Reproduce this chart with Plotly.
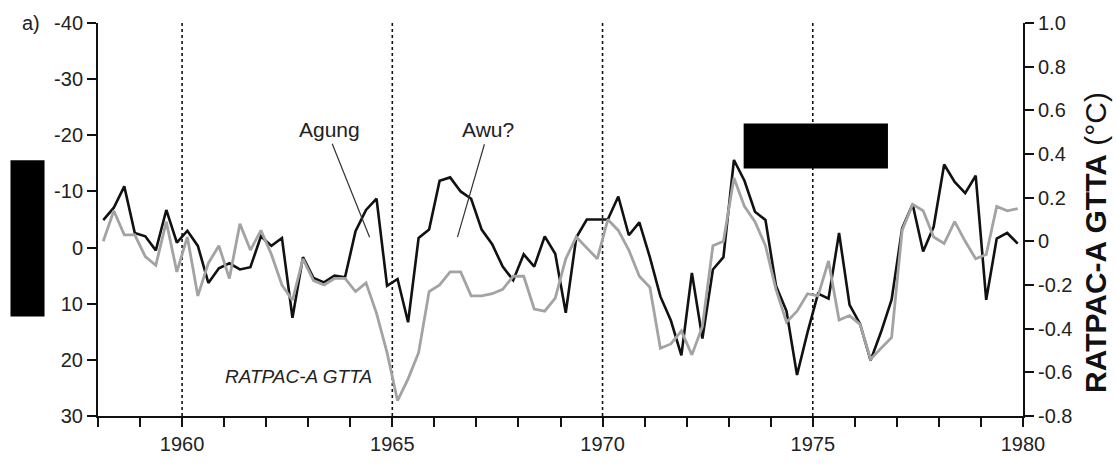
import plotly.graph_objects as go

# Quarterly time stamps (decimal years, mid-quarter) 1958-1979
quarters = [1958.125 + 0.25 * k for k in range(88)]

# Black series (left axis, reversed)
black_vals = [
    -4.9, -7.1, -10.9, -2.6, -2.0, 0.5, -6.7, -0.9, -3.0, -0.3,
    6.3, 3.7, 2.8, 3.9, 3.5, -2.0, -0.3, -1.7, 12.5, 1.7,
    5.4, 6.2, 5.0, 5.3, -2.9, -6.7, -8.7, 6.8, 5.6, 13.3,
    -1.7, -3.2, -11.9, -12.5, -10.0, -8.7, -3.2, -0.6, 3.4, 5.8,
    1.2, 3.4, -2.0, 1.1, 11.6, -1.8, -5.0, -5.0, -5.0, -9.1,
    -2.2, -4.5, 1.7, 8.7, 13.0, 19.2, 4.5, 16.2, 3.9, 1.7,
    -15.6, -11.9, -6.4, -4.9, 6.8, 11.3, 22.7, 15.1, 8.2, 9.1,
    -2.6, 10.2, 13.6, 20.1, 15.0, 9.3, -3.4, -7.7, 0.7, -3.7,
    -14.8, -11.7, -9.7, -12.8, 9.3, -1.6, -2.6, -0.7,
]

# RATPAC-A GTTA (right axis, deg C)
gtta_vals = [
    0.00, 0.14, 0.03, 0.03, -0.07, -0.11, 0.09, -0.14, 0.02, -0.25,
    -0.10, -0.02, -0.17, 0.08, -0.04, 0.05, -0.06, -0.20, -0.27, -0.08,
    -0.18, -0.20, -0.17, -0.17, -0.23, -0.19, -0.33, -0.51, -0.73, -0.63,
    -0.51, -0.23, -0.20, -0.14, -0.14, -0.25, -0.25, -0.24, -0.22, -0.16,
    -0.16, -0.31, -0.32, -0.26, -0.08, 0.02, -0.03, -0.08, 0.10, 0.05,
    -0.04, -0.16, -0.21, -0.49, -0.47, -0.41, -0.52, -0.39, -0.02, 0.00,
    0.29, 0.16, 0.09, -0.02, -0.22, -0.37, -0.32, -0.24, -0.25, -0.09,
    -0.36, -0.34, -0.38, -0.54, -0.49, -0.44, 0.05, 0.17, 0.14, 0.02,
    -0.01, 0.09, 0.00, -0.08, -0.06, 0.16, 0.14, 0.15,
]

left_ticks = [-40, -30, -20, -10, 0, 10, 20, 30]
right_ticks = [-0.8, -0.6, -0.4, -0.2, 0.0, 0.2, 0.4, 0.6, 0.8, 1.0]
right_ticktext = ["-0.8", "-0.6", "-0.4", "-0.2", "0", "0.2", "0.4", "0.6", "0.8", "1.0"]
year_ticks = [1960, 1965, 1970, 1975, 1980]
event_years = [1960, 1965, 1970, 1975]

FONT = "Liberation Sans, Arial, sans-serif"
TXT = "#222222"

fig = go.Figure()
fig.add_trace(go.Scatter(x=quarters, y=gtta_vals, yaxis="y2", mode="lines",
                         line=dict(color="#a3a3a3", width=2.8), showlegend=False))
fig.add_trace(go.Scatter(x=quarters, y=black_vals, yaxis="y", mode="lines",
                         line=dict(color="#111111", width=2.6), showlegend=False))

shapes = []
for yr in event_years:
    shapes.append(dict(type="line", xref="x", yref="paper", x0=yr, x1=yr, y0=0, y1=1,
                       line=dict(color="#111111", width=1.6, dash="dot"), layer="below"))
# Annotation leader lines
shapes.append(dict(type="line", xref="x", yref="y", x0=1963.57, y0=-18.5, x1=1964.46, y1=-1.85,
                   line=dict(color="#333333", width=1.2)))
shapes.append(dict(type="line", xref="x", yref="y", x0=1967.19, y0=-18.4, x1=1966.55, y1=-1.85,
                   line=dict(color="#333333", width=1.2)))
# Redaction boxes
shapes.append(dict(type="rect", xref="paper", yref="paper", x0=-0.0946, x1=-0.0578, y0=0.253, y1=0.651,
                   fillcolor="black", line=dict(width=0), layer="above"))
shapes.append(dict(type="rect", xref="paper", yref="paper", x0=0.698, x1=0.854, y0=0.630, y1=0.744,
                   fillcolor="black", line=dict(width=0), layer="above"))

annotations = [
    dict(text="a)", xref="paper", yref="paper", x=-0.072, y=1.0, showarrow=False,
         font=dict(family=FONT, size=20, color=TXT), xanchor="center", yanchor="middle"),
    dict(text="Agung", xref="x", yref="y", x=1963.50, y=-21.0, showarrow=False,
         font=dict(family=FONT, size=21, color=TXT), xanchor="center", yanchor="middle"),
    dict(text="Awu?", xref="x", yref="y", x=1967.28, y=-21.0, showarrow=False,
         font=dict(family=FONT, size=21, color=TXT), xanchor="center", yanchor="middle"),
    dict(text="<i>RATPAC-A GTTA</i>", xref="x", yref="y", x=1962.76, y=23.0, showarrow=False,
         font=dict(family=FONT, size=19, color=TXT), xanchor="center", yanchor="middle"),
    dict(text="<b>RATPAC-A GTTA</b> (°C)", xref="paper", yref="paper",
         x=(1096 - 98) / 925, y=(433 - 252) / 411, showarrow=False, textangle=-90,
         font=dict(family=FONT, size=30, color="#111111"), xanchor="center", yanchor="middle"),
]

axis_common = dict(showgrid=False, zeroline=False, showline=True, linecolor="#111111", linewidth=2,
                   ticks="outside", ticklen=9, tickwidth=1.6, tickcolor="#111111",
                   tickfont=dict(family=FONT, size=20, color=TXT))

fig.update_layout(
    width=1116, height=467,
    margin=dict(l=98, r=93, t=22, b=34),
    paper_bgcolor="white", plot_bgcolor="white",
    shapes=shapes, annotations=annotations,
    xaxis=dict(range=[1958, 1980], tickvals=year_ticks, ticktext=[str(y) for y in year_ticks],
               minor=dict(dtick=1, tick0=1958, ticks="outside", ticklen=9, tickwidth=1.6,
                          tickcolor="#111111", showgrid=False),
               **axis_common),
    yaxis=dict(range=[30, -40], tickvals=left_ticks, ticktext=[str(v) for v in left_ticks],
               **axis_common),
    yaxis2=dict(range=[-0.8, 1.0], tickvals=right_ticks, ticktext=right_ticktext,
                overlaying="y", side="right", **axis_common),
)

fig.write_html("out.html")
